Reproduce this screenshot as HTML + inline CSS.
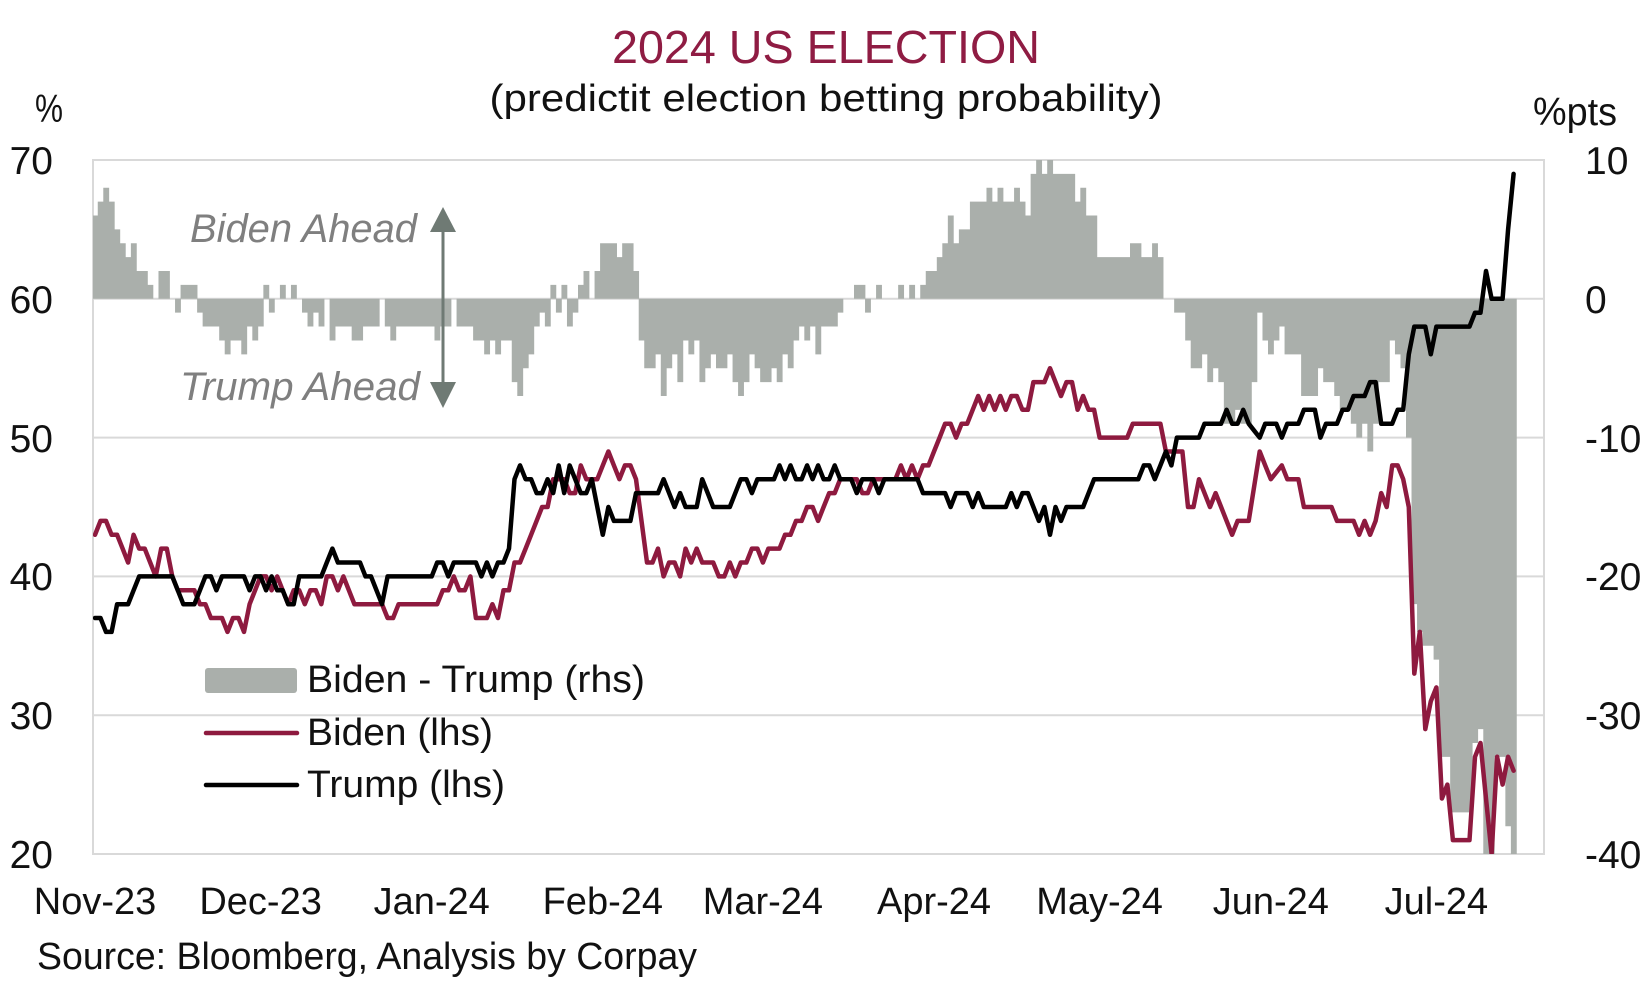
<!DOCTYPE html>
<html>
<head>
<meta charset="utf-8">
<style>
html,body{margin:0;padding:0;background:#fff;}
svg{display:block;}
text{font-family:"Liberation Sans",sans-serif;}
</style>
</head>
<body>
<svg id="chart" width="1651" height="990" viewBox="0 0 1651 990" xmlns="http://www.w3.org/2000/svg">
<rect x="0" y="0" width="1651" height="990" fill="#ffffff"/>
<defs>
<clipPath id="pc"><rect x="93" y="160" width="1451" height="694"/></clipPath>
</defs>
<!-- gridlines & frame -->
<g stroke="#d9d9d9" stroke-width="2" fill="none">
<line x1="93" y1="298.8" x2="1544" y2="298.8"/>
<line x1="93" y1="437.6" x2="1544" y2="437.6"/>
<line x1="93" y1="576.4" x2="1544" y2="576.4"/>
<line x1="93" y1="715.2" x2="1544" y2="715.2"/>
<rect x="93" y="160" width="1451" height="694"/>
</g>
<!-- bars -->
<path id="bars" fill="#aaafab" clip-path="url(#pc)" d=""/>
<!-- lines -->
<polyline id="biden" fill="none" stroke="#8e1a3f" stroke-width="4.5" stroke-linejoin="round" stroke-linecap="round" clip-path="url(#pc)" points=""/>
<polyline id="trump" fill="none" stroke="#000000" stroke-width="4.5" stroke-linejoin="round" stroke-linecap="round" clip-path="url(#pc)" points=""/>

<!-- title -->
<text x="826" y="63" font-size="46" fill="#8f1c43" text-anchor="middle" textLength="428" lengthAdjust="spacingAndGlyphs">2024 US ELECTION</text>
<text x="826" y="111" font-size="38" fill="#111" text-anchor="middle" textLength="673" lengthAdjust="spacingAndGlyphs">(predictit election betting probability)</text>

<!-- axis unit labels -->
<text x="35" y="122" font-size="39" fill="#111" textLength="28" lengthAdjust="spacingAndGlyphs">%</text>
<text x="1533" y="125" font-size="39" fill="#111" textLength="84" lengthAdjust="spacingAndGlyphs">%pts</text>

<!-- left ticks -->
<g font-size="39" fill="#111" text-anchor="end">
<text x="53" y="174">70</text>
<text x="53" y="313">60</text>
<text x="53" y="452">50</text>
<text x="53" y="590">40</text>
<text x="53" y="729">30</text>
<text x="53" y="868">20</text>
</g>
<!-- right ticks -->
<g font-size="39" fill="#111" text-anchor="start">
<text x="1585" y="174">10</text>
<text x="1585" y="313">0</text>
<text x="1585" y="452">-10</text>
<text x="1585" y="590">-20</text>
<text x="1585" y="729">-30</text>
<text x="1585" y="868">-40</text>
</g>
<!-- x labels -->
<g font-size="38" fill="#111" text-anchor="middle">
<text x="95" y="914">Nov-23</text>
<text x="260.6" y="914">Dec-23</text>
<text x="431.7" y="914">Jan-24</text>
<text x="602.8" y="914">Feb-24</text>
<text x="762.9" y="914">Mar-24</text>
<text x="934" y="914">Apr-24</text>
<text x="1099.6" y="914">May-24</text>
<text x="1270.8" y="914">Jun-24</text>
<text x="1436.4" y="914">Jul-24</text>
</g>
<text x="37" y="969" font-size="38" fill="#111" textLength="660" lengthAdjust="spacingAndGlyphs">Source: Bloomberg, Analysis by Corpay</text>

<!-- annotations -->
<text x="190" y="242" font-size="40" font-style="italic" fill="#7f7f7f" textLength="227" lengthAdjust="spacingAndGlyphs">Biden Ahead</text>
<text x="180" y="400" font-size="40" font-style="italic" fill="#7f7f7f" textLength="240" lengthAdjust="spacingAndGlyphs">Trump Ahead</text>
<line x1="443" y1="228" x2="443" y2="386" stroke="#6f7a74" stroke-width="3"/>
<polygon points="443,207 430,232 456,232" fill="#6f7a74"/>
<polygon points="443,408 430,382 456,382" fill="#6f7a74"/>

<!-- legend -->
<rect x="205" y="668" width="92" height="25" rx="3" fill="#aaafab"/>
<text x="307" y="692" font-size="38" fill="#111" textLength="338" lengthAdjust="spacingAndGlyphs">Biden - Trump (rhs)</text>
<line x1="206" y1="733" x2="297" y2="733" stroke="#8e1a3f" stroke-width="4.5" stroke-linecap="round"/>
<text x="307" y="745" font-size="38" fill="#111" textLength="186" lengthAdjust="spacingAndGlyphs">Biden (lhs)</text>
<line x1="206" y1="785" x2="297" y2="785" stroke="#000" stroke-width="4.5" stroke-linecap="round"/>
<text x="307" y="797" font-size="38" fill="#111" textLength="198" lengthAdjust="spacingAndGlyphs">Trump (lhs)</text>
</svg>

<script>
(function(){
var X0=95, DX=5.52, TOP=160, PX=13.88;
function xd(d){return X0+DX*d;}
function yl(v){return TOP+(70-v)*PX;}
function yr(v){return TOP+(10-v)*PX;}

var D=[].concat(
[6,7,8,7,5,4,3,4,2,2,1,0,2,2,0,-1,1,1,1,-1,-2,-2,-2,-3],
[-4,-3,-3,-4,-2,-3,-2,1,-1,0,1,0,1,0,-1,-2,-1,-2,0,-3,-2,-2,-2,-3,-3,-2,-2,-2,0,-2,-3,-2,-2,-2,-2,-2,-2,-2,-3,-2,-2,0,-2,-2],
[-2,-3,-3,-4,-3,-4,-3,-3,-6,-7,-5,-4,-2,-1,-2,1,-1,1,-2,-1,1,2,0,2,4,4,4,3,4,4,2,-3,-5,-5,-4,-7,-5,-4,-6,-3,-4,-3,-6,-5,-4,-5,-5,-4,-6,-7,-6,-4,-5,-6,-6,-5,-6,-4,-5,-3,-2,-3,-2,-4,-2],
[-2,-2,-1,0,0,1,1,-1,0,1,0,0,0,1,0,1,0,1,2,2,3,4,6,4,5,5,7,7,7,8,7,8,7,7,8,7,6,9,10,9,10,9,9,9,9,7,8,6,6,3,3,3,3,3,3,4,4,3,3,4,3,0,0,-1,-1,-3,-5],
[-5,-4,-6,-5,-6,-9,-9,-8,-9,-9,-6,-1,-3,-4,-3,-2,-4,-4,-4,-7,-7,-7,-5,-6,-6,-7,-8,-8,-9,-10,-9,-11,-9,-6,-6,-3,-4,-5,-10,-22,-24,-25,-25,-26,-33,-33,-37,-37,-37,-37,-32,-31,-40,-40,-33,-33,-38,-43]
);

var B=[[0,43],[1,44],[2,44],[3,43],[4,43],[5,42],[6,41],[7,43],[8,42],[9,42],[11,40],[12,42],[13,42],[14,40],[15,39],[18,39],[19,38],[20,38],[21,37],[23,37],[24,36],[25,37],[26,37],[27,36],[28,38],[30,40],[31,40],[32,39],[33,40],[34,39],[35,38],[36,39],[37,39],[38,38],[39,39],[40,39],[41,38],[42,40],[43,40],[44,39],[45,40],[46,39],[47,38],[52,38],[53,37],[54,37],[55,38],[62,38],[63,39],[64,39],[65,40],[66,39],[67,39],[68,40],[69,37],[71,37],[72,38],[73,37],[74,39],[75,39],[76,41],[77,41],[78,42],[79,43],[81,45],[82,45],[83,47],[85,47],[86,46],[87,46],[88,48],[89,47],[91,47],[93,49],[94,48],[95,47],[96,48],[97,48],[98,47],[99,44],[100,41],[101,41],[102,42],[103,40],[104,41],[105,41],[106,40],[107,42],[108,41],[109,42],[110,41],[112,41],[113,40],[114,40],[115,41],[116,40],[117,41],[118,41],[119,42],[120,42],[121,41],[122,42],[124,42],[125,43],[126,43],[127,44],[128,44],[129,45],[130,45],[131,44],[132,45],[133,46],[134,46],[135,47],[138,47],[139,46],[140,46],[141,47],[145,47],[146,48],[147,47],[148,48],[149,47],[150,48],[151,48],[152,49],[153,50],[154,51],[155,51],[156,50],[157,51],[158,51],[160,53],[161,52],[162,53],[163,52],[164,53],[165,52],[166,53],[167,53],[168,52],[169,52],[170,54],[172,54],[173,55],[174,54],[175,53],[176,54],[177,54],[178,52],[179,53],[180,52],[181,52],[182,50],[187,50],[188,51],[193,51],[194,49],[197,49],[198,45],[199,45],[200,47],[202,45],[203,46],[206,43],[207,44],[209,44],[211,49],[213,47],[215,48],[216,47],[218,47],[219,45],[224,45],[225,44],[228,44],[229,43],[230,44],[231,43],[232,44],[233,46],[234,45],[235,48],[236,48],[237,47],[238,45],[239,33],[240,36],[241,29],[242,31],[243,32],[244,24],[245,25],[246,21],[249,21],[250,27],[251,28],[252,24],[253,20],[254,27],[255,25],[256,27],[257,26]];

var T=[[0,37],[1,37],[2,36],[3,36],[4,38],[6,38],[7,39],[8,40],[14,40],[15,39],[16,38],[18,38],[19,39],[20,40],[21,40],[22,39],[23,40],[27,40],[28,39],[29,40],[30,40],[31,39],[32,40],[33,39],[34,39],[35,38],[36,38],[37,40],[41,40],[42,41],[43,42],[44,41],[48,41],[49,40],[50,40],[51,39],[52,38],[53,40],[61,40],[62,41],[63,41],[64,40],[65,41],[66,41],[69,41],[70,40],[71,41],[72,40],[73,41],[74,41],[75,42],[76,47],[77,48],[78,47],[79,47],[80,46],[81,46],[82,47],[83,46],[84,48],[85,46],[86,48],[87,47],[88,46],[89,46],[90,47],[91,45],[92,43],[93,45],[94,44],[97,44],[98,46],[102,46],[103,47],[104,46],[105,45],[106,46],[107,45],[109,45],[110,47],[111,46],[112,45],[115,45],[116,46],[117,47],[118,47],[119,46],[120,47],[123,47],[124,48],[125,47],[126,48],[127,47],[128,47],[129,48],[130,47],[131,48],[132,47],[133,47],[134,48],[135,47],[137,47],[138,46],[139,47],[141,47],[142,46],[143,47],[149,47],[150,46],[154,46],[155,45],[156,46],[158,46],[159,45],[160,46],[161,45],[165,45],[166,46],[167,45],[168,46],[169,46],[170,45],[171,44],[172,45],[173,43],[174,45],[175,44],[176,45],[179,45],[180,46],[181,47],[189,47],[190,48],[191,48],[192,47],[193,48],[194,49],[195,48],[196,50],[200,50],[201,51],[204,51],[205,52],[206,51],[207,51],[208,52],[209,51],[211,50],[212,51],[214,51],[215,50],[216,51],[218,51],[219,52],[221,52],[222,50],[223,51],[225,51],[226,52],[227,52],[228,53],[230,53],[231,54],[232,54],[233,51],[235,51],[236,52],[237,52],[238,56],[239,58],[241,58],[242,56],[243,58],[249,58],[250,59],[251,59],[252,62],[253,60],[255,60],[256,65],[257,69]];

function build(kp){
  var a=[];
  for(var i=0;i<kp.length-1;i++){
    var d0=kp[i][0],v0=kp[i][1],d1=kp[i+1][0],v1=kp[i+1][1];
    for(var d=d0; d<d1; d++){ a[d]=v0+(v1-v0)*(d-d0)/(d1-d0); }
  }
  a[kp[kp.length-1][0]]=kp[kp.length-1][1];
  return a;
}
function pts(arr){
  var s=[];
  for(var d=0; d<arr.length; d++){ if(arr[d]!==undefined) s.push(xd(d).toFixed(1)+','+yl(arr[d]).toFixed(1)); }
  return s.join(' ');
}
// bars
var p='', half=DX/2, y0=yr(0);
for(var d=0; d<D.length; d++){
  var v=D[d]; if(!v) continue;
  var y1=yr(v); y1=Math.max(158,Math.min(856,y1));
  var top=Math.min(y0,y1), h=Math.abs(y1-y0);
  var xl=xd(d)-half;
  p+='M'+xl.toFixed(2)+' '+top.toFixed(2)+'h'+(DX+0.35).toFixed(2)+'v'+h.toFixed(2)+'h-'+(DX+0.35).toFixed(2)+'z';
}
document.getElementById('bars').setAttribute('d',p);
document.getElementById('biden').setAttribute('points',pts(build(B)));
document.getElementById('trump').setAttribute('points',pts(build(T)));
})();
</script>
</body>
</html>
